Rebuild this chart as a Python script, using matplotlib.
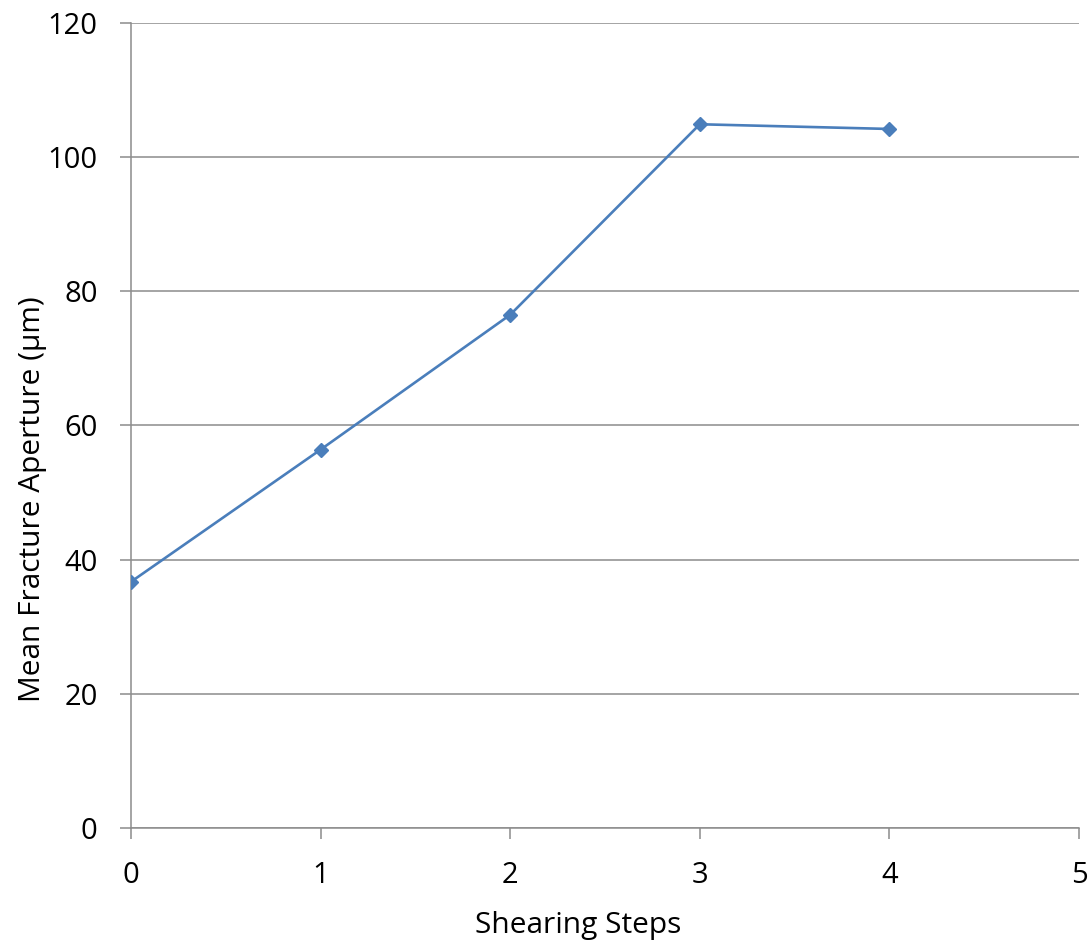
import matplotlib
matplotlib.use("Agg")
import matplotlib.pyplot as plt

# Data
steps = [0, 1, 2, 3, 4]
aperture = [36.7, 56.4, 76.5, 104.9, 104.2]

plt.rcParams['font.family'] = ['Open Sans', 'DejaVu Sans']

fig = plt.figure(figsize=(10.88, 9.41), dpi=100)
ax = fig.add_axes([0.1204, 0.1201, 0.8713, 0.8555])

ax.plot(steps, aperture, color='#4A7EBB', linewidth=1.9, marker='D',
        markersize=7, markerfacecolor='#4A7EBB', markeredgecolor='#4A7EBB', zorder=3)

ax.set_xlim(0, 5)
ax.set_ylim(0, 120)
ax.set_xticks(range(0, 6))
ax.set_yticks(range(0, 121, 20))
ax.grid(axis='y', color='#8C8C8C', linewidth=1.1)
ax.set_axisbelow(True)

for s in ['top', 'right']:
    ax.spines[s].set_visible(False)
for s in ['left', 'bottom']:
    ax.spines[s].set_color('#8C8C8C')
    ax.spines[s].set_linewidth(1.1)

ax.tick_params(axis='both', direction='out', length=8, width=1.1, color='#8C8C8C',
               labelsize=21, labelcolor='black', pad=16)

ax.set_xlabel('Shearing Steps', fontsize=21.5, va='baseline')
ax.set_ylabel('Mean Fracture Aperture (\u00b5m)', fontsize=21.5, va='baseline')
ax.xaxis.set_label_coords(0.4715, -0.1304)
ax.yaxis.set_label_coords(-0.096, 0.408)

fig.savefig('out.png', dpi=100)
